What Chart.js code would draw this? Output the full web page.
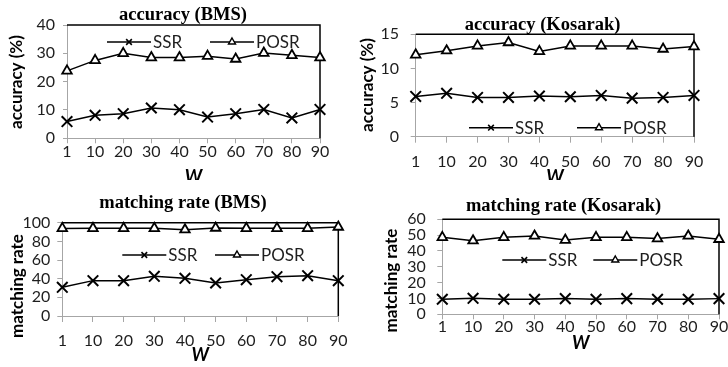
<!DOCTYPE html>
<html>
<head>
<meta charset="utf-8">
<script src="https://cdn.jsdelivr.net/npm/chart.js"></script>
<style>
  html, body { margin: 0; padding: 0; background: #fff; overflow: hidden; }
  body { width: 728px; height: 367px; position: relative; }
  canvas { position: absolute; }
</style>
</head>
<body>
<canvas id="acc-bms"></canvas>
<canvas id="acc-kos"></canvas>
<canvas id="mr-bms"></canvas>
<canvas id="mr-kos"></canvas>
<script>
const wLabels = ["1", "10", "20", "30", "40", "50", "60", "70", "80", "90"];

// accuracy (%)
const accBmsSsr = [5.9, 8.1, 8.7, 10.7, 10.1, 7.5, 8.7, 10.2, 7.2, 10.2];
const accBmsPosr = [23.8, 27.5, 30, 28.5, 28.5, 29, 28, 30.1, 29.3, 28.5];
const accKosSsr = [5.9, 6.35, 5.75, 5.75, 5.95, 5.85, 6.05, 5.65, 5.75, 6.05];
const accKosPosr = [12, 12.6, 13.3, 13.8, 12.5, 13.3, 13.3, 13.3, 12.85, 13.2];

// matching rate
const mrBmsSsr = [30.7, 37.9, 37.9, 42.5, 40.4, 35.4, 38.9, 42.1, 43.2, 37.9];
const mrBmsPosr = [93.9, 94, 94, 94, 92.5, 94.3, 94, 94, 94, 95.4];
const mrKosSsr = [9.5, 10.1, 9.5, 9.5, 9.9, 9.5, 9.9, 9.5, 9.5, 9.9];
const mrKosPosr = [48.6, 46.5, 48.6, 49.5, 46.9, 48.6, 48.6, 47.8, 49.5, 47.4];

// y tick values
const accBmsTicks = [0, 10, 20, 30, 40];
const accKosTicks = [0, 5, 10, 15];
const mrBmsTicks = [0, 20, 40, 60, 80, 100];
const mrKosTicks = [0, 10, 20, 30, 40, 50, 60];

const TITLE_SIZE = 18.5;
const W_SIZE = 18;
const TICK_SIZE = 16;
const AXIS_GREY = "#a6a6a6";
const TEXT = "#1e1e1e";

Chart.defaults.font.family = "Lato";
Chart.defaults.color = TEXT;

// black top + right edges of the plot area
const plotFrame = {
  id: "plotFrame",
  beforeDatasetsDraw(chart) {
    const { ctx, chartArea: a } = chart;
    ctx.save();
    ctx.strokeStyle = "#000";
    ctx.lineWidth = 1.5;
    ctx.beginPath();
    ctx.moveTo(a.left, a.top);
    ctx.lineTo(a.right, a.top);
    ctx.lineTo(a.right, a.bottom);
    ctx.stroke();
    ctx.restore();
  },
};

// legend drawn inside the plot: short line with marker, then label
const insideLegend = {
  id: "insideLegend",
  afterDatasetsDraw(chart, args, opts) {
    const { ctx, chartArea: a } = chart;
    const y = a.top + opts.y;
    ctx.save();
    chart.data.datasets.forEach((ds, i) => {
      const x = a.left + opts.xs[i];
      ctx.strokeStyle = ds.borderColor;
      ctx.lineWidth = ds.borderWidth;
      ctx.beginPath();
      ctx.moveTo(x, y);
      ctx.lineTo(x + opts.lineLen, y);
      ctx.stroke();
      ctx.fillStyle = ds.pointBackgroundColor;
      ctx.lineWidth = ds.pointBorderWidth * 0.8;
      Chart.helpers.drawPoint(ctx, { pointStyle: ds.pointStyle, radius: opts.radius, borderWidth: 1 }, x + opts.lineLen / 2, y);
      ctx.fillStyle = TEXT;
      ctx.font = "17px Lato";
      ctx.textBaseline = "middle";
      ctx.textAlign = "left";
      ctx.fillText(ds.label, x + opts.lineLen + 2, y + 1);
    });
    ctx.restore();
  },
};

// rotated y axis title at a fixed place
const sideTitle = {
  id: "sideTitle",
  afterDraw(chart, args, opts) {
    const { ctx } = chart;
    ctx.save();
    ctx.translate(opts.x, opts.y);
    ctx.rotate(-Math.PI / 2);
    ctx.font = "bold 17px Lato";
    ctx.fillStyle = "#000";
    ctx.textAlign = "center";
    ctx.textBaseline = "middle";
    ctx.fillText(opts.text, 0, 0);
    ctx.restore();
  },
};

function ssrSet(values) {
  return {
    label: "SSR", data: values, borderColor: "#000", borderWidth: 1.5,
    pointStyle: "crossRot", pointRadius: 7.5, pointBorderWidth: 2,
    pointBorderColor: "#000", pointBackgroundColor: "#000", clip: false,
  };
}

function posrSet(values) {
  return {
    label: "POSR", data: values, borderColor: "#000", borderWidth: 1.5,
    pointStyle: "triangle", pointRadius: 5.5, pointBorderWidth: 1.8,
    pointBorderColor: "#000", pointBackgroundColor: "#fff", clip: false,
  };
}

function makePanel(id, p) {
  const [bx, by, bh] = p.box;
  const [al, at, ar, ab] = p.area;
  // canvas is twice the title centre wide, so the full-width title lands where it should
  const bw = Math.round(2 * (p.titleX - bx));
  const canvas = document.getElementById(id);
  canvas.width = bw;
  canvas.height = bh;
  canvas.style.left = bx + "px";
  canvas.style.top = by + "px";

  const yWidth = al - bx;
  const rightWidth = bx + bw - ar;
  const titleTop = p.titleY - by - TITLE_SIZE / 2;
  const titleBottom = at - by - titleTop - TITLE_SIZE;
  const xHeight = by + bh - ab;
  const wBottom = by + bh - p.wY - W_SIZE / 2;

  return new Chart(canvas, {
    type: "line",
    data: { labels: wLabels, datasets: [ssrSet(p.ssr), posrSet(p.posr)] },
    plugins: [plotFrame, insideLegend, sideTitle],
    options: {
      responsive: false,
      animation: false,
      events: [],
      layout: { padding: 0 },
      elements: { line: { tension: 0 } },
      plugins: {
        legend: { display: false },
        tooltip: { enabled: false },
        title: {
          display: true,
          text: p.title,
          color: "#000",
          font: { family: "Liberation Serif", size: TITLE_SIZE, weight: "bold", lineHeight: 1 },
          padding: { top: titleTop, bottom: titleBottom },
        },
        insideLegend: { xs: p.legendXs, y: p.legendY, lineLen: 44, radius: 4 },
        sideTitle: { text: p.yTitle, x: p.yTitleX - bx, y: p.yTitleY - by },
      },
      scales: {
        x: {
          grid: { drawOnChartArea: false, drawTicks: true, tickLength: p.xTick[0], color: AXIS_GREY, tickColor: AXIS_GREY },
          border: { color: AXIS_GREY, width: 1 },
          ticks: { padding: p.xTick[1], autoSkip: false, maxRotation: 0, font: { size: TICK_SIZE, lineHeight: 1 } },
          title: {
            display: true, text: "W", color: "#000",
            font: { size: W_SIZE, weight: "bold", style: "italic", lineHeight: 1 },
            padding: { top: 0, bottom: wBottom },
          },
          afterFit: (s) => { s.height = xHeight; },
        },
        y: {
          min: p.ticks[0],
          max: p.ticks[p.ticks.length - 1],
          grid: { drawOnChartArea: false, drawTicks: true, tickLength: p.yTick[0], color: AXIS_GREY, tickColor: AXIS_GREY },
          border: { color: AXIS_GREY, width: 1 },
          ticks: { stepSize: p.ticks[1] - p.ticks[0], padding: p.yTick[1], autoSkip: false, font: { size: TICK_SIZE, lineHeight: 1 } },
          afterFit: (s) => { s.width = yWidth; },
        },
        // empty right-hand axis, only reserves the margin right of the plot
        yRight: {
          position: "right",
          grid: { display: false },
          border: { display: false },
          ticks: { display: false },
          afterFit: (s) => { s.width = rightWidth; },
        },
      },
    },
  });
}

makePanel("acc-bms", {
  box: [0, 0, 180], area: [67, 25, 320, 138.3],
  title: "accuracy (BMS)", titleX: 183, titleY: 15, wY: 177,
  yTitle: "accuracy (%)", yTitleX: 17, yTitleY: 82,
  ssr: accBmsSsr, posr: accBmsPosr, ticks: accBmsTicks,
  xTick: [5, 0.5], yTick: [4, 8], legendXs: [40, 143], legendY: 17,
});

makePanel("acc-kos", {
  box: [355, 0, 180], area: [415.7, 34.3, 694, 136.7],
  title: "accuracy (Kosarak)", titleX: 542.5, titleY: 25, wY: 177,
  yTitle: "accuracy (%)", yTitleX: 368, yTitleY: 85,
  ssr: accKosSsr, posr: accKosPosr, ticks: accKosTicks,
  xTick: [6, 11], yTick: [5, 11.7], legendXs: [53.3, 161.3], legendY: 93.4,
});

makePanel("mr-bms", {
  box: [0, 180, 187], area: [62.3, 222.7, 338.3, 316],
  title: "matching rate (BMS)", titleX: 183, titleY: 203.5, wY: 355.5,
  yTitle: "matching rate", yTitleX: 17.5, yTitleY: 286,
  ssr: mrBmsSsr, posr: mrBmsPosr, ticks: mrBmsTicks,
  xTick: [6, 10.5], yTick: [5, 7], legendXs: [60, 152.7], legendY: 32.3,
});

makePanel("mr-kos", {
  box: [364, 180, 187], area: [442.3, 219.3, 719, 314.3],
  title: "matching rate (Kosarak)", titleX: 563.5, titleY: 206.5, wY: 343.5,
  yTitle: "matching rate", yTitleX: 391.5, yTitleY: 280.5,
  ssr: mrKosSsr, posr: mrKosPosr, ticks: mrKosTicks,
  xTick: [5, 0], yTick: [5, 11.6], legendXs: [60, 151], legendY: 40.7,
});
</script>
</body>
</html>
